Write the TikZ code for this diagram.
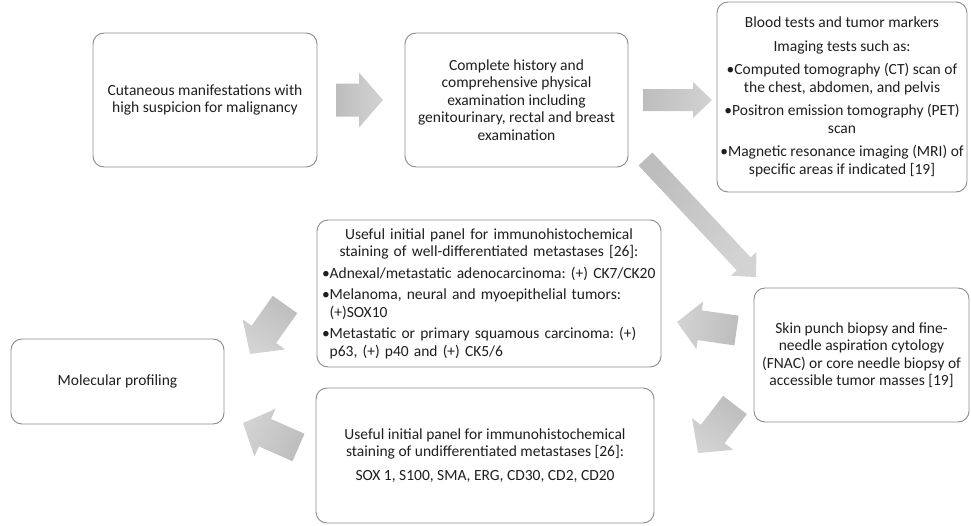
\documentclass[tikz,border=0pt]{standalone}
\usepackage{fontspec}
\setmainfont{Carlito}
\usetikzlibrary{calc}
\definecolor{boxline}{HTML}{8A8A8A}
\definecolor{arrowdark}{HTML}{BDBDBD}
\definecolor{arrowlight}{HTML}{D3D3D3}
\definecolor{textgray}{HTML}{1E1E1E}
\newlength\bulletw
\tikzset{
    box/.style={
        draw=boxline,
        line width=0.9pt,
        rounded corners=11pt,
        align=center,
        text=textgray,
        font={\fontsize{15.5}{17.5}\selectfont\frenchspacing}
    },
    arrowfill/.style={
        top color=arrowdark,
        bottom color=arrowlight
    }
}
% tail, tip, half shaft, half head, head length, shading angle
\newcommand\flowarrow[6]{
    \coordinate (hb) at ($(#2)!#5!(#1)$);
    \path [arrowfill, shading angle=#6]
        ($(#1)!#3!90:(#2)$) -- ($(hb)!#3!90:(#2)$) -- ($(hb)!#4!90:(#2)$) -- (#2)
        -- ($(hb)!#4!-90:(#2)$) -- ($(hb)!#3!-90:(#2)$) -- ($(#1)!#3!-90:(#2)$) -- cycle;
}

\begin{document}
\begin{tikzpicture}[x=1pt,y=-1pt]
    \useasboundingbox (0,0) rectangle (971,525);

    \node [box, minimum width=224pt, minimum height=134pt] (cutaneous) at (205,100)
        {Cutaneous manifestations with\\high suspicion for malignancy};
    \node [box, minimum width=223pt, minimum height=134pt] (history) at (516.5,100)
        {Complete history and\\comprehensive physical\\examination including\\genitourinary, rectal and breast\\examination};
    \node [box, minimum width=250pt, minimum height=190pt] (tests) at (842,97)
        {Blood tests and tumor markers\\[6pt]
         Imaging tests such as:\\[6pt]
         \textbullet Computed tomography (CT) scan of\\the chest, abdomen, and pelvis\\[6pt]
         \textbullet Positron emission tomography (PET)\\scan\\[6pt]
         \textbullet Magnetic resonance imaging (MRI) of\\specific areas if indicated [19]};
    \node [box, minimum width=215pt, minimum height=134pt] (skin) at (861.5,355)
        {Skin punch biopsy and fine-\\needle aspiration cytology\\(FNAC) or core needle biopsy of\\accessible tumor masses [19]};
    \node [box, minimum width=344pt, minimum height=147pt, inner xsep=3pt, text width=334pt, align=left] (welldiff) at (489,293.5)
        {\parindent=0pt\settowidth\bulletw{\textbullet}%
         {\centering Useful initial panel for immunohistochemical\\staining of well-differentiated metastases [26]:\par}%
         \vspace{4pt}\raggedright
         \textbullet Adnexal/metastatic adenocarcinoma: (+) CK7/CK20\\[4pt]
         \textbullet Melanoma, neural and myoepithelial tumors:\\
         \hspace*{\bulletw}(+)SOX10\\[4pt]
         \textbullet Metastatic or primary squamous carcinoma: (+)\\
         \hspace*{\bulletw}p63, (+) p40 and (+) CK5/6\hspace*{\fill}\par};
    \node [box, minimum width=338pt, minimum height=135pt] (undiff) at (485,455.5)
        {Useful initial panel for immunohistochemical\\staining of undifferentiated metastases [26]:\\[6pt]
         SOX 1, S100, SMA, ERG, CD30, CD2, CD20};
    \node [box, minimum width=213pt, minimum height=85pt] (molecular) at (117.5,381.5)
        {Molecular profiling};

    \coordinate (a1t) at (336,100);
    \coordinate (a1h) at (383,100);
    \coordinate (a2t) at (643,100);
    \coordinate (a2h) at (712,100);
    \coordinate (a3t) at (645.5,159);
    \coordinate (a3h) at (756,277);
    \coordinate (a4t) at (736.5,330.5);
    \coordinate (a4h) at (677,322);
    \coordinate (a5t) at (735,405);
    \coordinate (a5h) at (698,453);
    \coordinate (a6t) at (285,304.5);
    \coordinate (a6h) at (250,354);
    \coordinate (a7t) at (298.5,447.5);
    \coordinate (a7h) at (243,423);

    \flowarrow{a1t}{a1h}{16.5pt}{27.5pt}{24pt}{90}
    \flowarrow{a2t}{a2h}{11pt}{18pt}{19pt}{90}
    \flowarrow{a3t}{a3h}{9.5pt}{17.5pt}{18pt}{43}
    \flowarrow{a4t}{a4h}{15pt}{24pt}{23pt}{262}
    \flowarrow{a5t}{a5h}{15pt}{26pt}{24pt}{-38}
    \flowarrow{a6t}{a6h}{15pt}{26pt}{24pt}{-35}
    \flowarrow{a7t}{a7h}{15pt}{26pt}{24pt}{246}
\end{tikzpicture}
\end{document}
